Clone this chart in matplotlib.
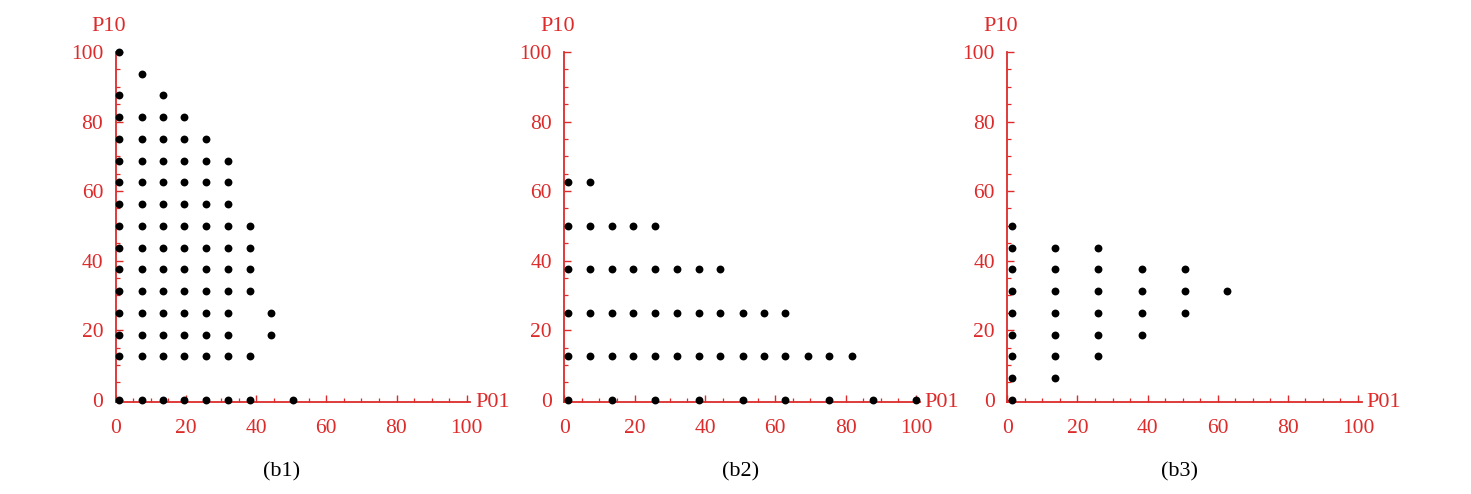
import matplotlib
matplotlib.use("Agg")
import matplotlib.pyplot as plt
from matplotlib.ticker import MultipleLocator

plt.rcParams['font.family'] = ['Liberation Serif', 'DejaVu Serif']

RED = '#dd2b2b'

# Grid column positions (P01)
# b1: columns and the P10 values present in each column
b1_x = [1.0, 7.4, 13.5, 19.5, 25.8, 31.9, 38.2, 44.3, 50.6]
b1_y = [
    [0, 12.5, 18.75, 25, 31.25, 37.5, 43.75, 50, 56.25, 62.5, 68.75, 75, 81.25, 87.5, 100],
    [0, 12.5, 18.75, 25, 31.25, 37.5, 43.75, 50, 56.25, 62.5, 68.75, 75, 81.25, 93.75],
    [0, 12.5, 18.75, 25, 31.25, 37.5, 43.75, 50, 56.25, 62.5, 68.75, 75, 81.25, 87.5],
    [0, 12.5, 18.75, 25, 31.25, 37.5, 43.75, 50, 56.25, 62.5, 68.75, 75, 81.25],
    [0, 12.5, 18.75, 25, 31.25, 37.5, 43.75, 50, 56.25, 62.5, 68.75, 75],
    [0, 12.5, 18.75, 25, 31.25, 37.5, 43.75, 50, 56.25, 62.5, 68.75],
    [0, 12.5, 31.25, 37.5, 43.75, 50],
    [18.75, 25],
    [0],
]

# b2: rows (P10) and the P01 values present in each row
b2_rows = [0, 12.5, 25, 37.5, 50, 62.5]
b2_x = [
    [1.1, 13.6, 25.9, 38.4, 50.9, 62.8, 75.4, 87.9, 100],
    [1.1, 7.4, 13.6, 19.6, 25.9, 32.0, 38.4, 44.4, 50.9, 56.9, 62.8, 69.3, 75.4, 81.7],
    [1.1, 7.4, 13.6, 19.6, 25.9, 32.0, 38.4, 44.4, 50.9, 56.9, 62.8],
    [1.1, 7.4, 13.6, 19.6, 25.9, 32.0, 38.4, 44.4],
    [1.1, 7.4, 13.6, 19.6, 25.9],
    [1.1, 7.4],
]

# b3: columns and the P10 values present in each column
b3_x = [1.2, 13.6, 25.9, 38.3, 50.7, 62.7]
b3_y = [
    [0, 6.25, 12.5, 18.75, 25, 31.25, 37.5, 43.75, 50],
    [6.25, 12.5, 18.75, 25, 31.25, 37.5, 43.75],
    [12.5, 18.75, 25, 31.25, 37.5, 43.75],
    [18.75, 25, 31.25, 37.5],
    [25, 31.25, 37.5],
    [31.25],
]

captions = ['(b1)', '(b2)', '(b3)']
x_ticks = [0, 20, 40, 60, 80, 100]
y_ticks = [0, 20, 40, 60, 80, 100]

W, H = 1471, 494
fig = plt.figure(figsize=(W / 100, H / 100), dpi=100)

# axes origin positions in pixels
origins = [(115.7, 402.5, 466.7), (564.3, 402.5, 916.0), (1007.3, 402.5, 1358.0)]
top_px = 52.0
cap_x = [282, 741, 1180]


def make_axes(ox, oy, x100):
    ax = fig.add_axes([ox / W, 1 - oy / H, (x100 - ox) / W, (oy - top_px) / H])
    ax.set_xlim(0, 100)
    ax.set_ylim(-0.8, 100)
    for s in ['top', 'right']:
        ax.spines[s].set_visible(False)
    for s in ['left', 'bottom']:
        ax.spines[s].set_color(RED)
        ax.spines[s].set_linewidth(1.3)
    ax.spines['left'].set_bounds(-0.8, 100)
    ax.spines['bottom'].set_bounds(0, 101)
    ax.xaxis.set_minor_locator(MultipleLocator(5))
    ax.yaxis.set_minor_locator(MultipleLocator(5))
    ax.set_xticks(x_ticks)
    ax.set_yticks(y_ticks)
    ax.tick_params(which='major', direction='in', length=5, width=1.0, color=RED,
                   labelcolor=RED, labelsize=15.5)
    ax.tick_params(axis='x', which='major', pad=12)
    ax.tick_params(axis='y', which='major', pad=9)
    ax.tick_params(which='minor', direction='in', length=3, width=0.9, color=RED)
    ax.set_facecolor('none')
    ax.text(-0.02, 1.045, 'P10', transform=ax.transAxes, color=RED, fontsize=16,
            ha='center', va='bottom')
    ax.text(1.025, 0.0, 'P01', transform=ax.transAxes, color=RED, fontsize=16,
            ha='left', va='center')
    return ax


axes = [make_axes(*o) for o in origins]

ms = 32
ax = axes[0]
for xv, ys in zip(b1_x, b1_y):
    ax.scatter([xv] * len(ys), ys, s=ms, color='black', zorder=5, clip_on=False, linewidths=0)

ax = axes[1]
for yv, xs in zip(b2_rows, b2_x):
    ax.scatter(xs, [yv] * len(xs), s=ms, color='black', zorder=5, clip_on=False, linewidths=0)

ax = axes[2]
for xv, ys in zip(b3_x, b3_y):
    ax.scatter([xv] * len(ys), ys, s=ms, color='black', zorder=5, clip_on=False, linewidths=0)

for cx, cap in zip(cap_x, captions):
    fig.text(cx / W, 1 - 472 / H, cap, ha='center', va='center', fontsize=16, color='black')

fig.savefig('out.png', dpi=100, facecolor='white')
